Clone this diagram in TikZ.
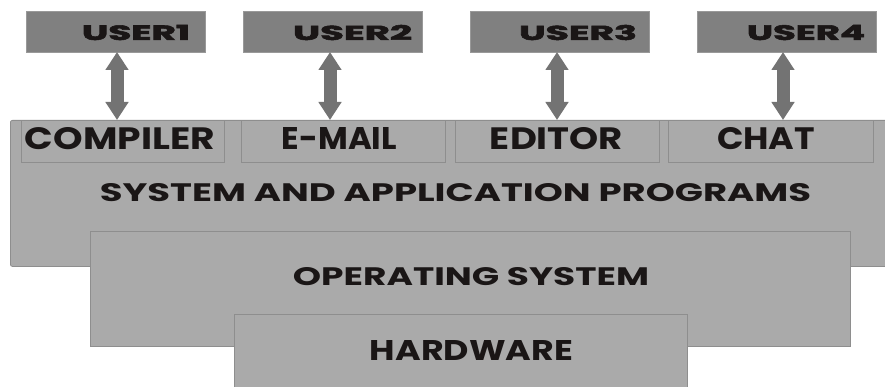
\documentclass[tikz,border=0pt]{standalone}
\usepackage{fontspec}
\setmainfont{Poppins}
\newfontfamily\heavyfont{Poppins}[BoldFeatures={FakeBold=2.5}]
\usetikzlibrary{arrows.meta}
\definecolor{boxgray}{HTML}{AAAAAA}
\definecolor{usergray}{HTML}{808080}
\definecolor{edgegray}{HTML}{8E8E8E}
\definecolor{useredge}{HTML}{999999}
\definecolor{arrowgray}{HTML}{737373}
\definecolor{ink}{HTML}{1A1616}
\newcommand{\fittext}[3]{\resizebox{#1pt}{#2pt}{\bfseries #3}}
\newcommand{\fitheavy}[3]{\resizebox{#1pt}{#2pt}{\heavyfont\bfseries #3}}
\begin{document}
\begin{tikzpicture}[x=1pt,y=-1pt,
  layerbox/.style={draw=edgegray, fill=boxgray, line width=0.8pt, inner sep=0pt,
    anchor=north west, rounded corners=2pt},
  appbox/.style={draw=edgegray, fill=boxgray, line width=0.8pt, inner sep=0pt,
    anchor=north west, minimum height=42pt},
  userbox/.style={draw=useredge, fill=usergray, line width=0.6pt, inner sep=0pt,
    anchor=north west, minimum width=179pt, minimum height=41pt},
  lbl/.style={inner sep=0pt, text=ink},
  dblarrow/.style={draw=arrowgray, line width=13pt,
    {Triangle[width=22pt,length=18pt]}-{Triangle[width=22pt,length=18pt]}}
]
\useasboundingbox (0,0) rectangle (885,387);
\fill[white] (0,0) rectangle (885,387);
\clip (0,0) rectangle (885,387);

% layers
\node[layerbox, minimum width=890pt, minimum height=146pt] (sys) at (10,120) {};
\node[layerbox, rounded corners=0pt, minimum width=760pt, minimum height=115pt] (os) at (90,231) {};
\node[layerbox, rounded corners=0pt, minimum width=453pt, minimum height=90pt] (hw) at (234,314) {};

% application boxes
\node[appbox, minimum width=203pt] (comp) at (21,120) {};
\node[appbox, minimum width=204pt] (mail) at (241,120) {};
\node[appbox, minimum width=204pt] (edit) at (455,120) {};
\node[appbox, minimum width=205pt] (chat) at (668,120) {};

% users
\node[userbox] (u1) at (26,11) {};
\node[userbox] (u2) at (243,11) {};
\node[userbox] (u3) at (470,11) {};
\node[userbox] (u4) at (697,11) {};

% labels
\node[lbl] (u1t) at (136,32.5) {\fitheavy{108}{15}{USER1}};
\node[lbl] (u2t) at (352.5,32.5) {\fitheavy{119}{15}{USER2}};
\node[lbl] (u3t) at (578,32.5) {\fitheavy{118}{15}{USER3}};
\node[lbl] (u4t) at (806,32.5) {\fitheavy{118}{15}{USER4}};

\node[lbl] (compt) at (120,139) {\fittext{190}{22}{COMPILER}};
\node[lbl] (mailt) at (339.5,139) {\fittext{115}{22}{E-MAIL}};
\node[lbl] (editt) at (556.5,139) {\fittext{133}{22}{EDITOR}};
\node[lbl] (chatt) at (766,139) {\fittext{98}{22}{CHAT}};

\node[lbl] (syst) at (455.5,193) {\fittext{711}{18}{SYSTEM AND APPLICATION PROGRAMS}};
\node[lbl] (ost) at (471,277) {\fittext{356}{18}{OPERATING SYSTEM}};
\node[lbl] (hwt) at (471.5,350) {\fittext{203}{20}{HARDWARE}};

% arrows
\coordinate (a1) at (117,52);
\coordinate (a2) at (330,52);
\coordinate (a3) at (557,52);
\coordinate (a4) at (783,52);
\draw[dblarrow] (a1) -- (a1 |- comp.north);
\draw[dblarrow] (a2) -- (a2 |- mail.north);
\draw[dblarrow] (a3) -- (a3 |- edit.north);
\draw[dblarrow] (a4) -- (a4 |- chat.north);
\end{tikzpicture}
\end{document}
